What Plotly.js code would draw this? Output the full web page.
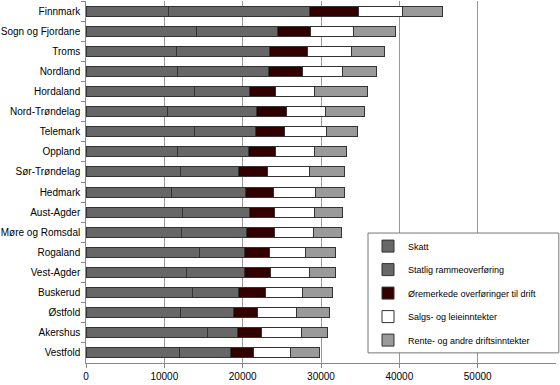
<!DOCTYPE html>
<html><head><meta charset="utf-8">
<script src="https://cdn.plot.ly/plotly-3.0.1.min.js"></script>
<style>html,body{margin:0;padding:0;background:#fff}#c{width:560px;height:385px}</style>
</head><body><div id="c"></div>
<script>
const fylker = ["Finnmark","Sogn og Fjordane","Troms","Nordland","Hordaland","Nord-Trøndelag","Telemark","Oppland","Sør-Trøndelag","Hedmark","Aust-Agder","Møre og Romsdal","Rogaland","Vest-Agder","Buskerud","Østfold","Akershus","Vestfold"];
const skatt =    [10500,14100,11510,11690,13800,10370,13800,11690,12070,10930,12330,12150,14430,12780,13600,12020,15450,11940];
const statlig =  [18000,10300,11910,11640, 7080,11360, 7840, 9100, 7410, 9440, 8550, 8310, 5810, 7460, 5920, 6790, 3900, 6520];
const oremerk =  [ 6230, 4230, 4870, 4320, 3300, 3850, 3680, 3390, 3650, 3600, 3170, 3590, 3180, 3260, 3390, 3040, 3090, 2960];
const salg =     [ 5720, 5500, 5550, 5080, 4960, 4990, 5380, 4960, 5370, 5290, 5090, 5000, 4610, 5040, 4740, 5040, 5040, 4670];
const rente =    [ 5040, 5390, 4280, 4370, 6820, 5010, 3990, 4150, 4540, 3780, 3640, 3560, 3860, 3350, 3860, 4240, 3400, 3770];
const seriesNames = ["Skatt","Statlig rammeoverføring","Øremerkede overføringer til drift","Salgs- og leieinntekter","Rente- og andre driftsinntekter"];
const xTicks = [0,10000,20000,30000,40000,50000];

const colors = ["#676767","#676767","#330000","#ffffff","#9a9a9a"];
const data = [skatt,statlig,oremerk,salg,rente].map((vals,i)=>({
  type:"bar", orientation:"h", y:fylker, x:vals, name:seriesNames[i],
  legendgroup:"g"+i,
  marker:{color:colors[i], line:{color:"#333333", width:1}},
  hoverinfo:"x+name"
}));

const layout = {
  width:560, height:385,
  margin:{l:86,r:4,t:1,b:22},
  paper_bgcolor:"#fff", plot_bgcolor:"#fff",
  barmode:"stack", bargap:0.5,
  font:{family:"Liberation Sans, Arial, sans-serif", size:10, color:"#000"},
  xaxis:{range:[0,60000], tickvals:xTicks, ticktext:xTicks.map(String),
         showgrid:true, gridcolor:"#999", gridwidth:1, zeroline:false,
         showline:true, linecolor:"#888", ticks:"outside", ticklen:4, tickcolor:"#888",
         tickfont:{size:10}},
  yaxis:{autorange:"reversed", type:"category", showline:true, linecolor:"#888",
         ticks:"outside", ticklen:4, tickcolor:"#888", tickson:"boundaries",
         showgrid:false, zeroline:false, tickfont:{size:10}, ticksuffix:" "},
  showlegend:true,
  legend:{x:0.6, y:0.363, xanchor:"left", yanchor:"top", bgcolor:"rgba(0,0,0,0)",
          borderwidth:0, font:{size:9}, traceorder:"grouped", tracegroupgap:4.5},
  shapes:[{type:"rect", xref:"paper", yref:"paper", x0:0.6, x1:1.006, y0:0.028, y1:0.359,
           line:{color:"#777", width:1}, fillcolor:"#fff", layer:"above"}]
};
Plotly.newPlot("c", data, layout, {displayModeBar:false, staticPlot:true});
</script></body></html>
